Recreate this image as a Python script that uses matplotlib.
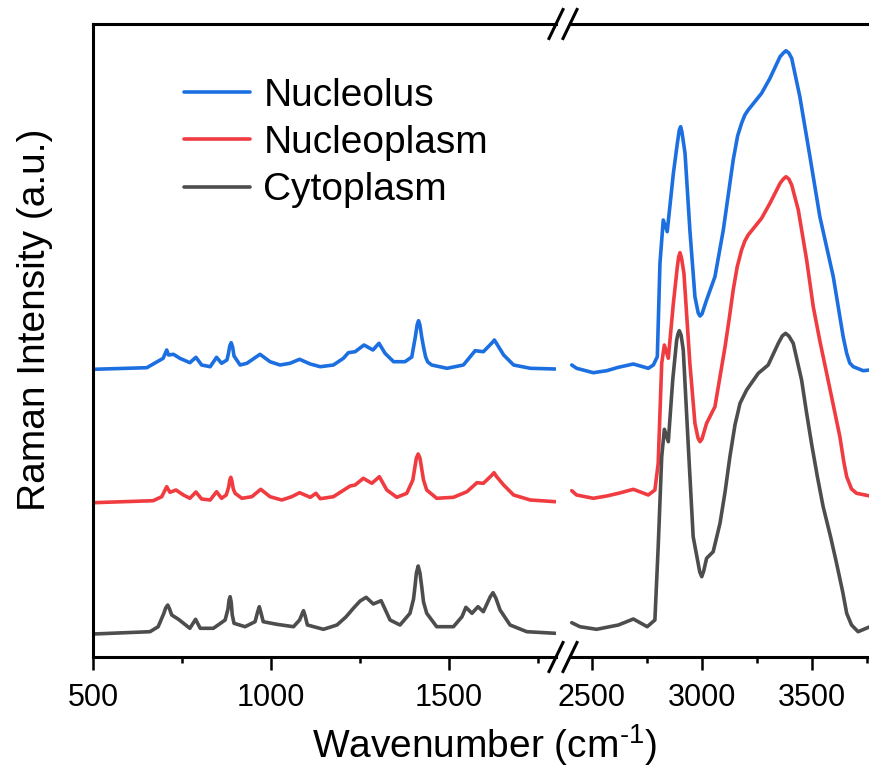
import numpy as np
import pandas as pd
import matplotlib
matplotlib.use('Agg')
import matplotlib.pyplot as plt
from matplotlib.lines import Line2D

plt.rcParams['font.family'] = ['Liberation Sans', 'DejaVu Sans']
plt.rcParams['mathtext.fontset'] = 'custom'
plt.rcParams['mathtext.rm'] = 'Liberation Sans'
plt.rcParams['mathtext.default'] = 'regular'

## spectra (wavenumber, intensity in a.u. incl. stacking offset)
# fingerprint region
wn_nucleolus_low = [501, 651, 697, 707, 712, 726, 744, 772, 789, 805, 829, 847, 861, 876, 880, 884, 888,
                    892, 896, 913, 932, 969, 997, 1025, 1053, 1080, 1110, 1138, 1175, 1203, 1217, 1236,
                    1261, 1286, 1303, 1320, 1344, 1376, 1395, 1400, 1405, 1410, 1414, 1418, 1423, 1428,
                    1434, 1440, 1451, 1494, 1540, 1573, 1596, 1620, 1627, 1634, 1653, 1681, 1728, 1798]
int_nucleolus_low = [287.7, 289.3, 298.7, 307, 302, 302.7, 298.7, 294.3, 299.7, 292, 290.3, 299.7, 293.7,
                     297, 303, 311, 314.3, 310, 301, 292, 293.7, 302.7, 295.3, 292, 293.7, 297.7, 293,
                     290.3, 292, 298.7, 304.3, 305.3, 312, 307, 313.7, 303.7, 295.3, 295.3, 300, 310, 320,
                     332, 336.3, 332, 320, 310, 300, 295, 292, 288.7, 292, 306.3, 305.3, 314, 317, 313,
                     302, 292, 288.7, 288]

wn_nucleoplasm_low = [501, 669, 693, 707, 716, 733, 754, 772, 789, 805, 829, 847, 861, 874, 881, 884, 887,
                      890, 894, 899, 918, 946, 971, 997, 1030, 1058, 1080, 1110, 1126, 1138, 1175, 1222,
                      1236, 1259, 1283, 1304, 1325, 1353, 1381, 1398, 1403, 1408, 1413, 1418, 1423, 1428,
                      1437, 1465, 1512, 1550, 1578, 1596, 1619, 1626, 1633, 1653, 1681, 1728, 1798]
int_nucleoplasm_low = [154.3, 156.3, 160.3, 170.3, 164.7, 167, 162, 158.7, 165, 158, 157, 165.3, 158.7,
                       162, 170, 177, 179.7, 176, 168, 163.7, 158.7, 160.3, 167.7, 160.3, 157, 160.3,
                       164.3, 159.7, 163.7, 158.3, 160.3, 171, 172, 178.7, 173.7, 180.3, 167, 159.7,
                       163.7, 177, 188, 199, 203, 199, 188, 177, 167, 158.7, 159.7, 165.3, 174.3, 173.7,
                       181.5, 184.3, 180.5, 172, 162, 157, 155.3]

wn_cytoplasm_low = [501, 660, 683, 699, 704, 710, 715, 721, 740, 772, 788, 801, 838, 871, 879, 882, 885,
                    888, 891, 896, 927, 955, 963, 967, 971, 978, 1016, 1063, 1080, 1087, 1091, 1095, 1102,
                    1147, 1185, 1210, 1231, 1250, 1267, 1287, 1309, 1334, 1362, 1390, 1400, 1404, 1408,
                    1413, 1418, 1423, 1428, 1437, 1465, 1512, 1536, 1547, 1564, 1581, 1596, 1615, 1623,
                    1631, 1643, 1671, 1718, 1798]
int_cytoplasm_low = [23, 25.3, 30.3, 43.7, 49, 52, 48, 42, 37.7, 28.7, 37.7, 28.7, 28.7, 37, 48, 57, 60.3,
                     55, 42, 33.7, 30.3, 35.3, 46, 50.3, 45, 35.3, 32.7, 30.3, 37, 43, 46.3, 42, 32, 27.7,
                     32, 40, 48.7, 56, 59.7, 53, 56.3, 37, 32, 43.7, 58, 70.3, 84, 91, 84, 70.3, 55, 43.7,
                     30.3, 30.3, 40.3, 49.7, 43.7, 50.3, 45.3, 60, 64.3, 59, 47, 32, 25.3, 23.7]

# high wavenumber region
wn_nucleolus_high = [2408, 2430, 2506, 2567, 2620, 2688, 2756, 2779, 2797, 2809, 2824, 2842, 2870, 2888,
                     2897, 2903, 2909, 2923, 2945, 2968, 2983, 2991, 3000, 3021, 3059, 3097, 3142, 3162,
                     3180, 3195, 3210, 3271, 3309, 3355, 3370, 3382, 3395, 3408, 3445, 3491, 3536, 3597,
                     3642, 3658, 3672, 3688, 3733, 3764]
int_nucleolus_high = [292, 288.7, 284.3, 286.3, 289.7, 293, 288.7, 292, 300.3, 393.7, 437, 425.3, 483.7,
                      513.7, 527, 530.3, 525, 503.7, 427, 360.3, 344, 341, 343, 357, 380.3, 427, 497,
                      521, 533.7, 542, 547, 563.7, 578.7, 600.3, 604, 606.3, 604, 598.7, 560.3, 500.3,
                      440.3, 380.3, 320.3, 303.7, 294, 290.3, 286.3, 287]

wn_nucleoplasm_high = [2408, 2430, 2506, 2567, 2620, 2688, 2756, 2786, 2801, 2817, 2829, 2847, 2870, 2888,
                       2894, 2900, 2907, 2918, 2945, 2968, 2982, 2991, 3000, 3021, 3059, 3105, 3125, 3142,
                       3160, 3180, 3195, 3210, 3271, 3309, 3355, 3370, 3382, 3395, 3408, 3438, 3476, 3506,
                       3537, 3567, 3597, 3627, 3645, 3658, 3680, 3703, 3764]
int_nucleoplasm_high = [166.3, 162, 158.7, 161, 163.7, 167.7, 162, 167, 193.7, 293.7, 312, 298.7, 353.7,
                        390.3, 400, 404.3, 399, 383.7, 293.7, 233.7, 219, 215.3, 218, 233.7, 250.3,
                        310.3, 340, 367, 390, 407, 416, 422, 438.7, 453.7, 473.7, 478, 480.3, 478, 472,
                        447, 397, 350.3, 315, 283.7, 252, 220.3, 195, 180.3, 168, 163.7, 161]

wn_cytoplasm_high = [2408, 2445, 2521, 2620, 2688, 2751, 2786, 2801, 2817, 2829, 2847, 2867, 2885, 2891,
                     2897, 2905, 2915, 2938, 2960, 2990, 2999, 3008, 3021, 3051, 3082, 3105, 3127, 3150,
                     3173, 3203, 3256, 3301, 3347, 3365, 3380, 3395, 3415, 3453, 3475, 3498, 3525, 3551,
                     3585, 3612, 3640, 3658, 3680, 3710, 3764]
int_cytoplasm_high = [34.3, 30.3, 27.7, 32, 38, 30.3, 37, 110.3, 200.3, 227.7, 215.3, 277, 317, 323,
                      326.3, 322, 307, 210.3, 120.3, 85, 80.3, 86, 98.7, 105.3, 133.7, 165, 200.3, 232,
                      253.7, 267, 283.7, 292, 313.7, 321, 323.7, 321, 313.7, 277, 245, 213.7, 180,
                      150.3, 120, 93.7, 65, 43.7, 32, 25.3, 30.3]

labels = ['Nucleolus', 'Nucleoplasm', 'Cytoplasm']
colors = ['#1c6fe0', '#f03c40', '#4d4d4d']

low = [(wn_nucleolus_low, int_nucleolus_low), (wn_nucleoplasm_low, int_nucleoplasm_low),
       (wn_cytoplasm_low, int_cytoplasm_low)]
high = [(wn_nucleolus_high, int_nucleolus_high), (wn_nucleoplasm_high, int_nucleoplasm_high),
        (wn_cytoplasm_high, int_cytoplasm_high)]

## figure: broken x axis made of two axes
W, H = 870, 772
fig = plt.figure(figsize=(8.7, 7.72), dpi=100)
ax1 = fig.add_axes([93 / W, 1 - 657 / H, (556 - 93) / W, (657 - 24) / H])
ax2 = fig.add_axes([570 / W, 1 - 657 / H, (870 - 570) / W, (657 - 24) / H])

for (x, y), lab, c in zip(low, labels, colors):
    ax1.plot(x, y, color=c, lw=2.6, label=lab, solid_joinstyle='round', solid_capstyle='round')
for (x, y), c in zip(high, colors):
    ax2.plot(x, y, color=c, lw=2.6, solid_joinstyle='round', solid_capstyle='round')

ax1.set_xlim(500, 1800)
ax2.set_xlim(2400, 3764)
for ax in (ax1, ax2):
    ax.set_ylim(0, 633)
    ax.set_yticks([])
    for s in ax.spines.values():
        s.set_linewidth(2.2)
    ax.tick_params(axis='x', which='major', direction='out', length=9, width=1.8,
                   labelsize=22, pad=10)
    ax.tick_params(axis='x', which='minor', direction='out', length=4.5, width=1.8)

ax1.set_xticks([500, 1000, 1500])
ax1.set_xticks([750, 1250, 1750], minor=True)
ax2.set_xticks([2500, 3000, 3500])
ax2.set_xticks([2750, 3250, 3750], minor=True)

ax1.spines['right'].set_visible(False)
ax2.spines['left'].set_visible(False)
ax2.spines['right'].set_visible(False)

# break marks
for cx in (556, 570):
    for cy in (657, 24):
        fig.add_artist(Line2D([(cx - 7) / W, (cx + 7) / W], [1 - (cy + 14.5) / H, 1 - (cy - 14.5) / H],
                              color='black', lw=2.2, transform=fig.transFigure))

fig.text(35 / W, 1 - 320 / H, 'Raman Intensity (a.u.)', rotation=90, fontsize=28,
         ha='center', va='center')
fig.text(484 / W, 1 - 745 / H, 'Wavenumber (cm$^{\u20101}$)', fontsize=28, ha='center', va='center')

ax1.legend(loc='upper left', bbox_to_anchor=(168 / W, 1 - 62 / H), bbox_transform=fig.transFigure,
           frameon=False, fontsize=28, handlelength=1.7, handletextpad=0.35, labelspacing=0.29,
           borderaxespad=0)

fig.savefig('out.png', dpi=100)
